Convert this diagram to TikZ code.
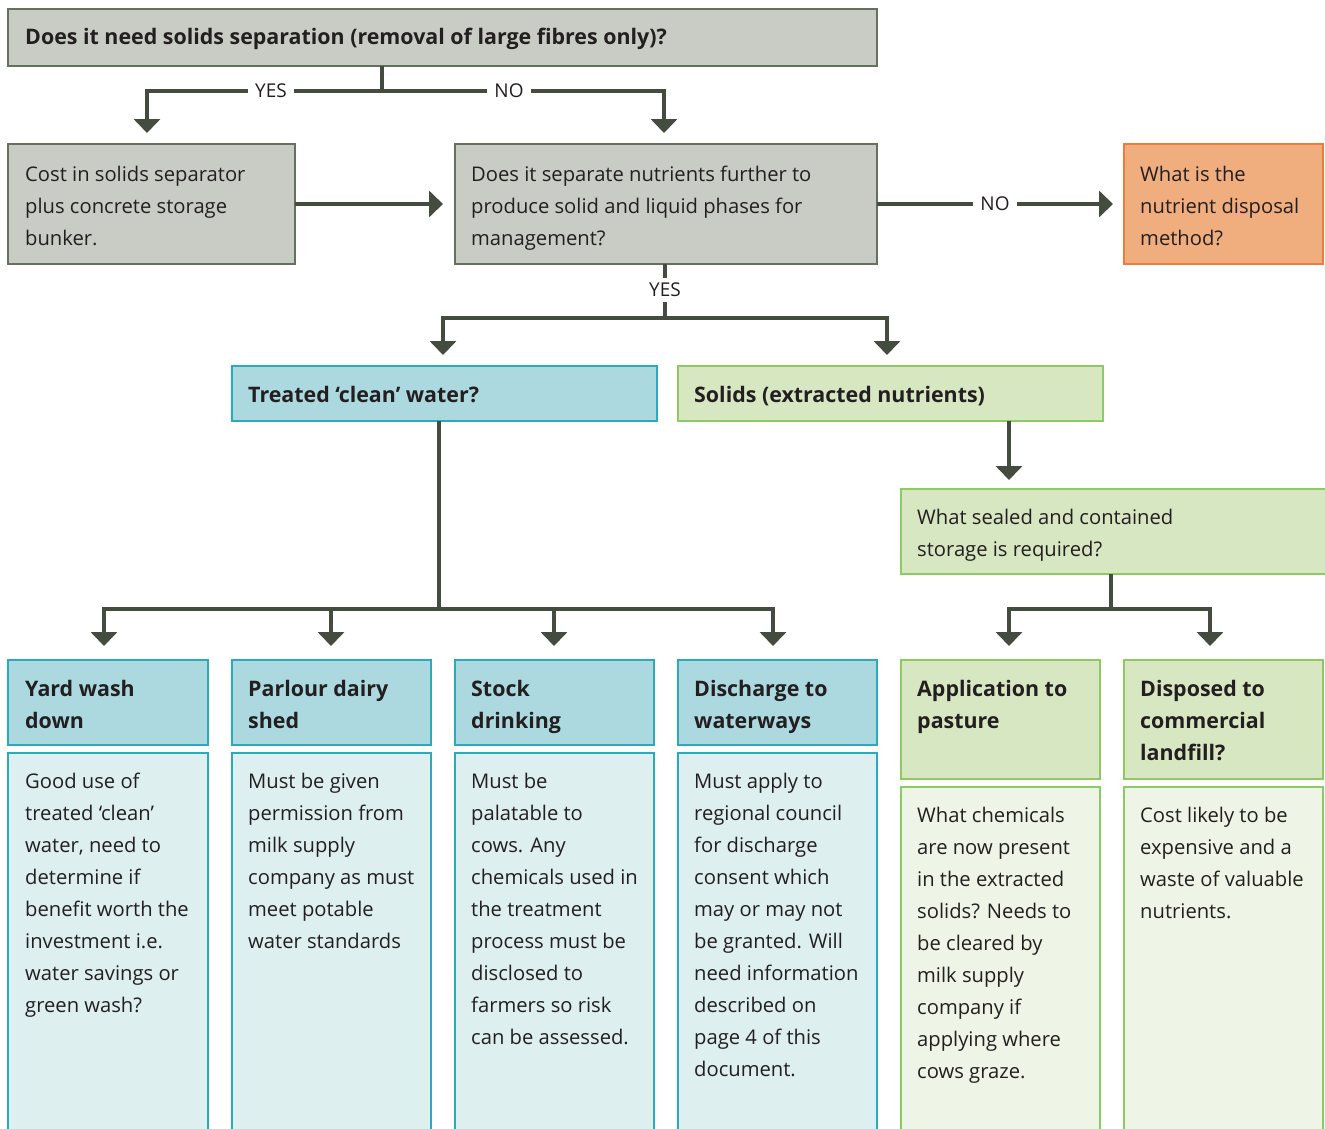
\documentclass[tikz,border=0pt]{standalone}
\usepackage{fontspec}
\setmainfont{Open Sans}
\usetikzlibrary{arrows.meta}
\definecolor{ln}{HTML}{434C3E}
\definecolor{tx}{HTML}{231F20}
\definecolor{grayf}{HTML}{C8CCC4}
\definecolor{grayd}{HTML}{66705F}
\definecolor{orf}{HTML}{F0AE7E}
\definecolor{ord}{HTML}{EB7C3A}
\definecolor{teal}{HTML}{2BAABB}
\definecolor{tealf}{HTML}{ABD9DF}
\definecolor{tealb}{HTML}{DDEFEF}
\definecolor{grn}{HTML}{8DCB62}
\definecolor{grnf}{HTML}{D6E7C2}
\definecolor{grnb}{HTML}{EEF5E6}
\tikzset{
  x=1pt, y=-1pt,
  box/.style={anchor=north west, inner sep=0pt, outer sep=0pt, line width=1.5pt},
  graybox/.style={box, draw=grayd, fill=grayf},
  orbox/.style={box, draw=ord, fill=orf},
  tealhead/.style={box, draw=teal, fill=tealf},
  tealbody/.style={box, draw=teal, fill=tealb},
  grnhead/.style={box, draw=grn, fill=grnf},
  grnbody/.style={box, draw=grn, fill=grnb},
  seg/.style={draw=ln, line width=4pt},
  flow/.style={draw=ln, line width=4pt, -{Triangle[width=26pt,length=14pt]}},
  txt/.style={anchor=north west, inner sep=0pt, align=left, text=tx,
     font=\fontsize{20.2}{32}\selectfont, execute at begin node=\strut},
  btxt/.style={txt, font=\fontsize{21.4}{32}\selectfont\bfseries},
  ml/.style={yshift=-7pt},
  lab/.style={fill=white, inner xsep=7pt, inner ysep=3pt, text=tx,
     font=\fontsize{19}{22}\selectfont},
}
\newcommand\bxx[6]{\node[#1, minimum width=#4pt, minimum height=#5pt] (#6) at (#2,#3) {};}
\newcommand\ttx[5]{\node[#1] (#2) at ({#3},{#4-22.4}) {#5};}
\begin{document}
\begin{tikzpicture}
\clip (0,0) rectangle (1325,1128);
\fill[white] (0,0) rectangle (1325,1128);
% boxes
\bxx{graybox}{8}{9}{869}{57}{top}
\bxx{graybox}{8}{144}{287}{120}{cost}
\bxx{graybox}{455}{144}{422}{120}{sep}
\bxx{orbox}{1124}{144}{199}{120}{ora}
\bxx{tealhead}{232}{366}{425}{55}{treated}
\bxx{grnhead}{678}{366}{425}{55}{solids}
\bxx{grnhead}{901}{489}{430}{85}{sealed}
\bxx{tealhead}{8}{660}{200}{85}{h1}
\bxx{tealhead}{232}{660}{199}{85}{h2}
\bxx{tealhead}{455}{660}{199}{85}{h3}
\bxx{tealhead}{678}{660}{199}{85}{h4}
\bxx{grnhead}{901}{660}{199}{119}{h5}
\bxx{grnhead}{1124}{660}{199}{119}{h6}
\bxx{tealbody}{8}{753}{200}{400}{b1}
\bxx{tealbody}{232}{753}{199}{400}{b2}
\bxx{tealbody}{455}{753}{199}{400}{b3}
\bxx{tealbody}{678}{753}{199}{400}{b4}
\bxx{grnbody}{901}{787}{199}{400}{b5}
\bxx{grnbody}{1124}{787}{199}{400}{b6}
% texts
\ttx{btxt}{ttop}{25}{44}{Does it need solids separation (removal of large fibres only)?}
\ttx{txt,ml}{tcost}{25}{181}{Cost in solids separator\\plus concrete storage\\bunker.}
\ttx{txt,ml}{tsep}{471}{181}{Does it separate nutrients further to\\produce solid and liquid phases for\\management?}
\ttx{txt,ml}{tora}{1140}{181}{What is the\\nutrient disposal\\method?}
\ttx{btxt}{ttreated}{248}{402}{Treated ‘clean’ water?}
\ttx{btxt}{tsolids}{694}{402}{Solids (extracted nutrients)}
\ttx{txt,ml}{tsealed}{917}{524}{What sealed and contained\\storage is required?}
\ttx{btxt,ml}{th1}{25}{695}{Yard wash\\down}
\ttx{btxt,ml}{th2}{248}{695}{Parlour dairy\\shed}
\ttx{btxt,ml}{th3}{471}{695}{Stock\\drinking}
\ttx{btxt,ml}{th4}{694}{695}{Discharge to\\waterways}
\ttx{btxt,ml}{th5}{917}{695}{Application to\\pasture}
\ttx{btxt,ml}{th6}{1140}{695}{Disposed to\\commercial\\landfill?}
\ttx{txt,ml}{tb1}{25}{788}{Good use of\\treated ‘clean’\\water, need to\\determine if\\benefit worth the\\investment i.e.\\water savings or\\green wash?}
\ttx{txt,ml}{tb2}{248}{788}{Must be given\\permission from\\milk supply\\company as must\\meet potable\\water standards}
\ttx{txt,ml}{tb3}{471}{788}{Must be\\palatable to\\cows. Any\\chemicals used in\\the treatment\\process must be\\disclosed to\\farmers so risk\\can be assessed.}
\ttx{txt,ml}{tb4}{694}{788}{Must apply to\\regional council\\for discharge\\consent which\\may or may not\\be granted. Will\\need information\\described on\\page 4 of this\\document.}
\ttx{txt,ml}{tb5}{917}{822}{What chemicals\\are now present\\in the extracted\\solids? Needs to\\be cleared by\\milk supply\\company if\\applying where\\cows graze.}
\ttx{txt,ml}{tb6}{1140}{822}{Cost likely to be\\expensive and a\\waste of valuable\\nutrients.}
% junction coordinates
\coordinate (j1) at (382,91);
\coordinate (a1) at (147,91);
\coordinate (a2) at (664,91);
\coordinate (j2) at (665,318);
\coordinate (a3) at (443,318);
\coordinate (a4) at (887,318);
\coordinate (j3) at (439,609);
\coordinate (c1) at (104,609);
\coordinate (c2) at (331,609);
\coordinate (c3) at (554,609);
\coordinate (c4) at (773,609);
\coordinate (s1) at (1009,421);
\coordinate (j4) at (1111,609);
\coordinate (c5) at (1009,609);
\coordinate (c6) at (1210,609);
% connectors
\draw[seg] (top.south -| j1) -- (j1);
\draw[flow, shorten >=11pt] (j1) -- (a1) -- (cost.north -| a1);
\draw[flow, shorten >=11pt] (j1) -- (a2) -- (sep.north -| a2);
\node[lab] (yes1) at (271,91) {YES};
\node[lab] (no1) at (509,91) {NO};
\draw[flow, shorten >=12pt] (cost.east) -- (sep.west);
\draw[flow, shorten >=11pt] (sep.east) -- (ora.west);
\node[lab] (no2) at (995,204) {NO};
\draw[seg] (sep.south -| j2) -- (j2);
\draw[flow, shorten >=11pt] (j2) -- (a3) -- (treated.north -| a3);
\draw[flow, shorten >=11pt] (j2) -- (a4) -- (solids.north -| a4);
\node[lab, inner xsep=2pt, inner ysep=5pt] (yes2) at (665,290) {YES};
\draw[seg] (treated.south -| j3) -- (j3);
\draw[flow, shorten >=14pt] (j3) -- (c1) -- (h1.north -| c1);
\draw[flow, shorten >=14pt] (j3) -- (c2) -- (h2.north -| c2);
\draw[flow, shorten >=14pt] (j3) -- (c3) -- (h3.north -| c3);
\draw[flow, shorten >=14pt] (j3) -- (c4) -- (h4.north -| c4);
\draw[flow, shorten >=9pt] (solids.south -| s1) -- (sealed.north -| s1);
\draw[seg] (sealed.south -| j4) -- (j4);
\draw[flow, shorten >=14pt] (j4) -- (c5) -- (h5.north -| c5);
\draw[flow, shorten >=14pt] (j4) -- (c6) -- (h6.north -| c6);
\end{tikzpicture}
\end{document}
